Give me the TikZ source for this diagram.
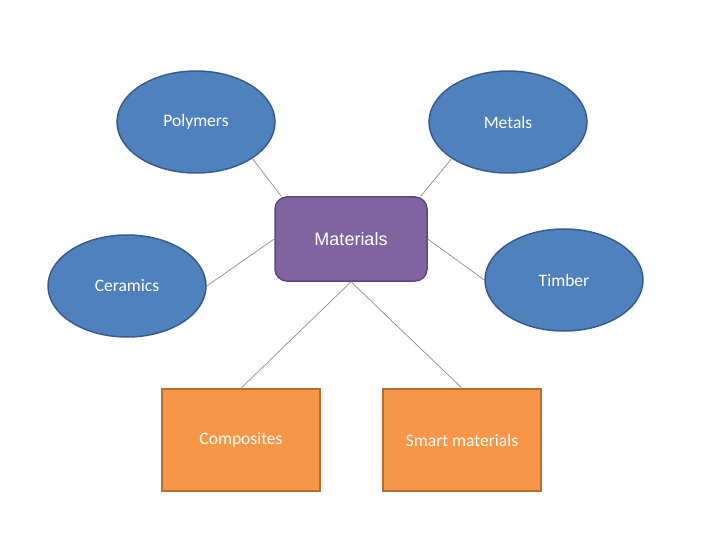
\documentclass[tikz,border=0pt]{standalone}
\usepackage{fontspec}
\setmainfont{Carlito}
\newfontfamily\arialfont{Liberation Sans}
\usetikzlibrary{shapes.geometric,calc}
\definecolor{ellfill}{HTML}{4F81BD}
\definecolor{elldraw}{HTML}{385D8A}
\definecolor{matfill}{HTML}{8064A2}
\definecolor{matdraw}{HTML}{5C4776}
\definecolor{orfill}{HTML}{F79646}
\definecolor{ordraw}{HTML}{B66D31}
\definecolor{linkcol}{HTML}{8C8C8C}
\tikzset{
  ell/.style={ellipse, draw=elldraw, fill=ellfill, line width=1.5pt, minimum width=158pt, minimum height=102pt, inner sep=0pt, text=white, font=\fontsize{17.5}{20}\selectfont},
  matbox/.style={rectangle, rounded corners=12pt, draw=matdraw, fill=matfill, line width=1.5pt, minimum width=152pt, minimum height=84pt, inner sep=0pt, text=white, font=\arialfont\fontsize{18}{21}\selectfont},
  orbox/.style={rectangle, draw=ordraw, fill=orfill, line width=1.5pt, minimum width=158pt, minimum height=102pt, inner sep=0pt, text=white, font=\fontsize{17.5}{20}\selectfont},
  link/.style={draw=linkcol, line width=0.7pt}
}
\begin{document}
\begin{tikzpicture}[x=1pt,y=-1pt]
\useasboundingbox (0,0) rectangle (720,540);
\node[ell] (poly) at (196,122) {Polymers};
\node[ell] (metal) at (508,122) {Metals};
\node[ell] (cer) at (127,286) {Ceramics};
\node[ell] (tim) at (564,280) {Timber};
\node[matbox] (mat) at (351,239) {Materials};
\node[orbox] (comp) at (241,440) {Composites};
\node[orbox] (smart) at (462,440) {Smart materials};
\draw[link] (poly.south east) -- ($(mat.north west)+(7,0)$);
\draw[link] (metal.south west) -- ($(mat.north east)+(-7,0)$);
\draw[link] (cer.east) -- (mat.west);
\draw[link] (tim.west) -- (mat.east);
\draw[link] (mat.south) -- (comp.north);
\draw[link] (mat.south) -- (smart.north);
\end{tikzpicture}
\end{document}
